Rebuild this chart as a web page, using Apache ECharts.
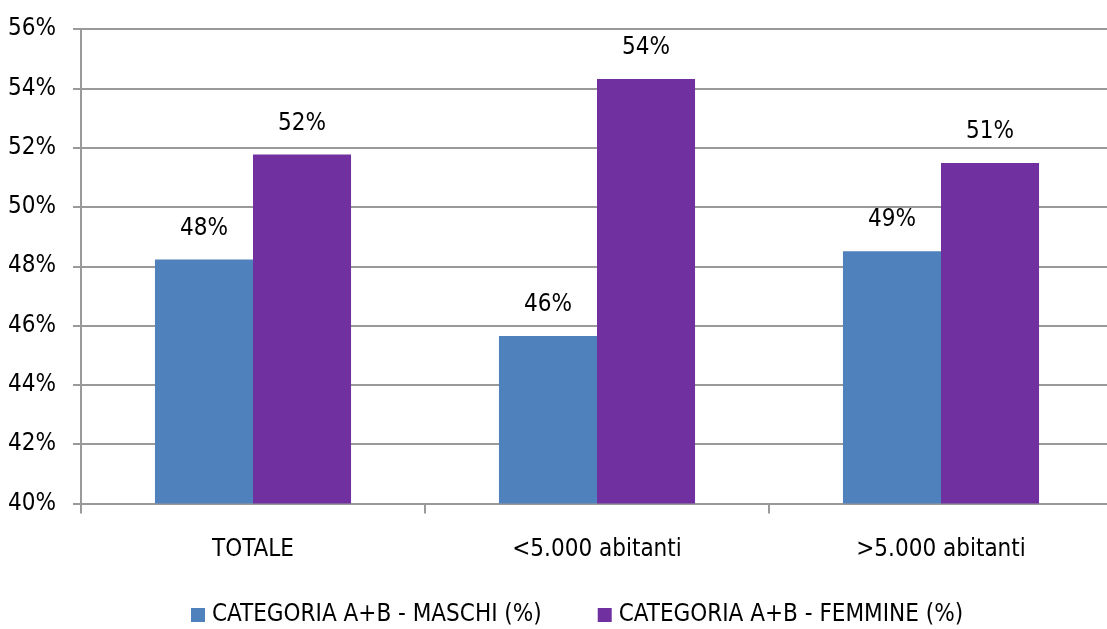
<!DOCTYPE html>
<html>
<head>
<meta charset="utf-8">
<script src="https://cdn.jsdelivr.net/npm/echarts@6/dist/echarts.min.js"></script>
<style>
  html, body { margin: 0; padding: 0; background: #fff; overflow: hidden; }
  /* the plot area runs a few pixels past the right edge of the window */
  #chart { width: 1113px; height: 629px; }
</style>
</head>
<body>
<div id="chart"></div>
<script>
// Share of category A+B, by sex and municipality size
const categories = ['TOTALE', '<5.000 abitanti', '>5.000 abitanti'];
const seriesNames = ['CATEGORIA A+B - MASCHI (%)', 'CATEGORIA A+B - FEMMINE (%)'];
const maschi = [48.23, 45.65, 48.51];
const femmine = [51.77, 54.31, 51.48];

const FONT = '"DejaVu Sans Condensed", "DejaVu Sans", sans-serif';
const gridGray = '#999999';

const chart = echarts.init(document.getElementById('chart'), null, { renderer: 'canvas' });

const labelStyle = {
  show: true,
  position: 'top',
  distance: 19,
  color: '#000',
  fontFamily: FONT,
  fontSize: 24,
  formatter: p => Math.round(p.value) + '%'
};

chart.setOption({
  animation: false,
  backgroundColor: '#ffffff',
  textStyle: { fontFamily: FONT },
  grid: { left: 81, right: 0, top: 29, bottom: 125.5, containLabel: false },
  legend: {
    bottom: -3,
    left: 186,
    itemWidth: 14,
    itemHeight: 14,
    itemGap: 56,
    icon: 'rect',
    textStyle: { fontFamily: FONT, fontSize: 24, color: '#000', padding: [0, 0, 0, 2] },
    data: seriesNames
  },
  xAxis: {
    type: 'category',
    data: categories,
    axisLine: { show: true, lineStyle: { color: gridGray, width: 2 } },
    axisTick: { show: true, length: 10, lineStyle: { color: gridGray, width: 2 } },
    axisLabel: { color: '#000', fontFamily: FONT, fontSize: 24, margin: 34 }
  },
  yAxis: {
    type: 'value',
    min: 40,
    max: 56,
    interval: 2,
    axisLine: { show: true, lineStyle: { color: gridGray, width: 2 } },
    axisTick: { show: true, length: 8, lineStyle: { color: gridGray, width: 2 } },
    axisLabel: { color: '#000', fontFamily: FONT, fontSize: 24, margin: 25, formatter: v => v + '%' },
    splitLine: { show: true, lineStyle: { color: gridGray, width: 2 } }
  },
  series: [
    {
      name: seriesNames[0],
      type: 'bar',
      data: maschi,
      barGap: '0%',
      barCategoryGap: '43%',
      itemStyle: { color: '#4F81BD' },
      label: labelStyle
    },
    {
      name: seriesNames[1],
      type: 'bar',
      data: femmine,
      itemStyle: { color: '#7030A0' },
      label: labelStyle
    }
  ]
});
</script>
</body>
</html>
